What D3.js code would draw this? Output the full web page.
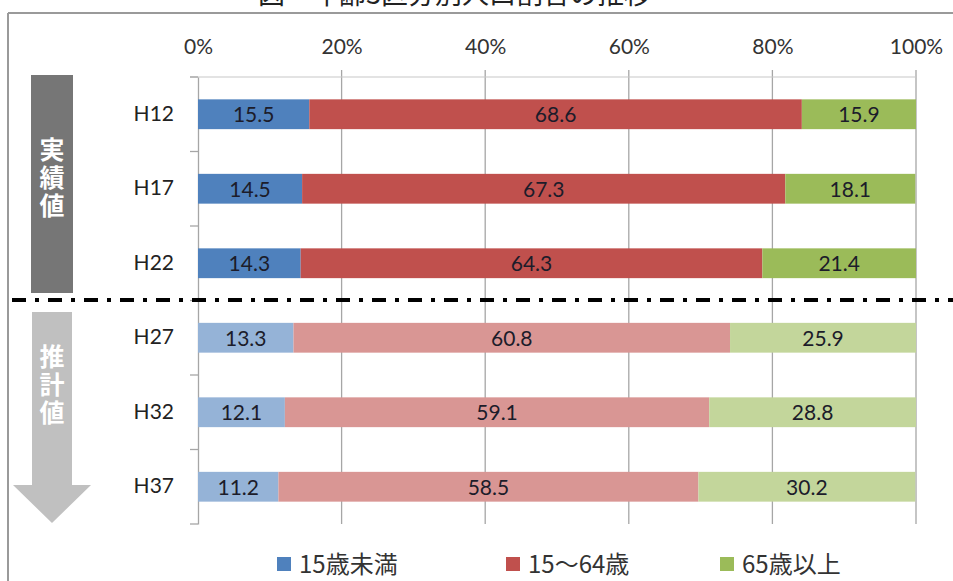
<!DOCTYPE html>
<html><head><meta charset="utf-8">
<script src="https://cdn.jsdelivr.net/npm/d3@7"></script>
<style>
html,body{margin:0;padding:0;background:#fff;}
svg{display:block;font-family:Lato,"Noto Sans CJK JP",sans-serif;}
</style></head><body>
<svg id="c" width="953" height="581"></svg>
<script>
const categories = ["H12","H17","H22","H27","H32","H37"];
const under15 = [15.5,14.5,14.3,13.3,12.1,11.2];
const age15to64 = [68.6,67.3,64.3,60.8,59.1,58.5];
const over65 = [15.9,18.1,21.4,25.9,28.8,30.2];
const seriesNames = ["15歳未満","15～64歳","65歳以上"];
const tickLabels = ["0%","20%","40%","60%","80%","100%"];
const tickValues = [0,20,40,60,80,100];
const actualCount = 3;

const colorsActual = ["#4f81bd","#c0504d","#9bbb59"];
const colorsEst = ["#95b3d7","#d99694","#c3d69b"];
const jp = '"Noto Sans CJK JP",sans-serif';

const svg = d3.select("#c");

// title (cut off at top, only lower edge visible)
svg.append("text").attr("x",258).attr("y",4).attr("font-family",jp)
  .attr("font-size",27).attr("fill","#222").text("図　年齢3区分別人口割合の推移");

// frame
svg.append("line").attr("x1",8).attr("x2",953).attr("y1",13).attr("y2",13).attr("stroke","#9a9a9a").attr("stroke-width",2);
svg.append("line").attr("x1",8).attr("x2",8).attr("y1",13).attr("y2",581).attr("stroke","#9a9a9a").attr("stroke-width",2);

const x = d3.scaleLinear().domain([0,100]).range([198,916]);
const y = d3.scaleBand().domain(categories).range([77,524]).paddingInner(0.6).paddingOuter(0.3);
const yOuter = d3.scaleBand().domain(categories).range([77,524]);

// gridlines
svg.append("g").selectAll("line").data(tickValues.slice(1)).join("line")
  .attr("x1",d=>x(d)).attr("x2",d=>x(d)).attr("y1",70).attr("y2",524)
  .attr("stroke","#a6a6a6").attr("stroke-width",1.3);
svg.append("line").attr("x1",190).attr("x2",x(100)).attr("y1",77).attr("y2",77)
  .attr("stroke","#c8c8c8").attr("stroke-width",1.2);

// top axis labels
const xAxis = d3.axisTop(x).tickValues(tickValues).tickFormat((d,i)=>tickLabels[i]).tickSize(0).tickPadding(0);
const gx = svg.append("g").attr("transform","translate(0,54)").call(xAxis);
gx.select(".domain").remove();
gx.selectAll("text").attr("font-size",21).attr("fill","#333").attr("font-family","Lato,sans-serif");

// y axis
const gy = svg.append("g").attr("transform","translate(198,0)")
  .call(d3.axisLeft(yOuter).tickSize(0).tickPadding(24));
gy.select(".domain").attr("stroke","#a6a6a6").attr("stroke-width",1.3);
gy.selectAll("text").attr("font-size",21).attr("fill","#222").attr("font-family","Lato,sans-serif");
// boundary ticks
const bounds = categories.map(c=>yOuter(c)).concat([524]);
svg.append("g").selectAll("line").data(bounds).join("line")
  .attr("x1",190).attr("x2",198).attr("y1",d=>d).attr("y2",d=>d)
  .attr("stroke","#a6a6a6").attr("stroke-width",1.3);

// stacked data
const rows = categories.map((c,i)=>({cat:c,idx:i,vals:[under15[i],age15to64[i],over65[i]]}));
const gBars = svg.append("g");
rows.forEach(r=>{
  let acc = 0;
  r.vals.forEach((v,s)=>{
    const x0 = x(acc), x1 = x(Math.min(100,acc+v));
    gBars.append("rect").attr("x",x0).attr("y",y(r.cat)).attr("width",x1-x0).attr("height",y.bandwidth())
      .attr("fill", r.idx<actualCount ? colorsActual[s] : colorsEst[s]);
    gBars.append("text").attr("x",(x0+x1)/2).attr("y",y(r.cat)+y.bandwidth()/2+8)
      .attr("text-anchor","middle").attr("font-size",21).attr("fill","#1c1c2a")
      .attr("font-family","Lato,sans-serif").text(v.toFixed(1));
    acc += v;
  });
});

// dash-dot separator
svg.append("line").attr("x1",12).attr("x2",953).attr("y1",300).attr("y2",300)
  .attr("stroke","#000").attr("stroke-width",4).attr("stroke-dasharray","14,9,4,9");

// left labels
svg.append("rect").attr("x",31).attr("y",75).attr("width",42).attr("height",218).attr("fill","#767676");
svg.append("text").attr("x",52).attr("y",137)
  .attr("style","writing-mode:vertical-rl;letter-spacing:3px")
  .attr("font-family",jp).attr("font-weight","bold").attr("font-size",25).attr("fill","#fff").text("実績値");
svg.append("path").attr("d","M32,312 L72,312 L72,485 L91,485 L52,523 L13,485 L32,485 Z").attr("fill","#c0c0c0");
svg.append("text").attr("x",52).attr("y",344)
  .attr("style","writing-mode:vertical-rl;letter-spacing:3px")
  .attr("font-family",jp).attr("font-weight","bold").attr("font-size",25).attr("fill","#fff").text("推計値");

// legend
const legX = [277,506,720];
seriesNames.forEach((n,i)=>{
  svg.append("rect").attr("x",legX[i]).attr("y",557).attr("width",14).attr("height",14).attr("fill",colorsActual[i]);
  svg.append("text").attr("x",legX[i]+22).attr("y",573).attr("font-family",jp).attr("font-size",24).attr("fill","#333").text(n);
});
</script>
</body></html>
